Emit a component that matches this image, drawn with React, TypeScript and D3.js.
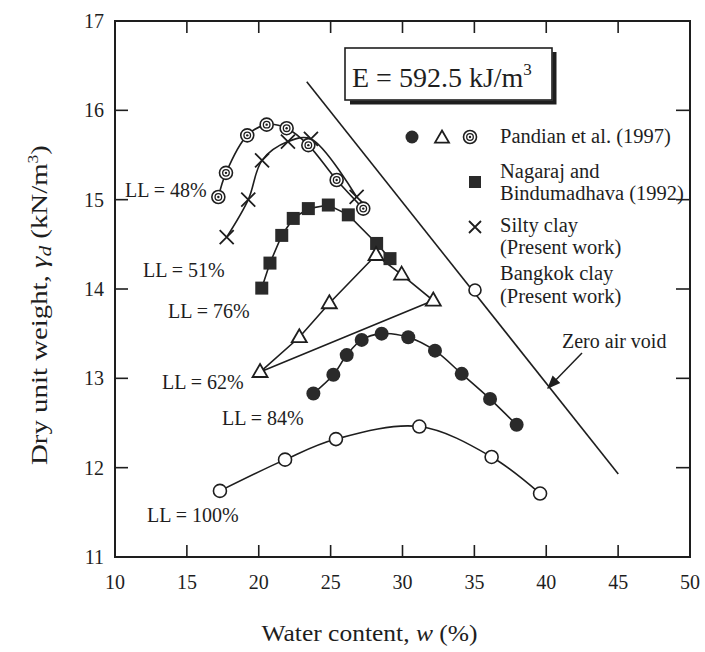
import React from 'react';
import * as d3 from 'd3';

// ---------- data ----------
const xTicks = [10, 15, 20, 25, 30, 35, 40, 45, 50];
const yTicks = [11, 12, 13, 14, 15, 16, 17];

// Pandian et al. (1997) LL = 48% (double circles)
const p48W = [17.19, 17.72, 19.2, 20.55, 21.94, 23.45, 25.42, 27.27];
const p48G = [15.03, 15.3, 15.72, 15.84, 15.8, 15.61, 15.22, 14.9];

// Silty clay (present work) LL = 51% (crosses)
const siltW = [17.77, 19.27, 20.23, 22.03, 23.63, 26.81];
const siltG = [14.58, 15.0, 15.44, 15.65, 15.68, 15.03];

// Nagaraj and Bindumadhava (1992) LL = 76% (squares)
const nagW = [20.21, 20.78, 21.6, 22.4, 23.45, 24.84, 26.23, 28.2, 29.13];
const nagG = [14.01, 14.29, 14.6, 14.79, 14.9, 14.94, 14.83, 14.51, 14.34];

// Pandian et al. (1997) LL = 62% (triangles, closed)
const p62W = [20.09, 22.82, 24.91, 28.16, 29.94, 32.14];
const p62G = [13.07, 13.46, 13.84, 14.38, 14.16, 13.87];

// Pandian et al. (1997) LL = 84% (filled circles)
const p84W = [23.8, 25.19, 26.12, 27.16, 28.55, 30.4, 32.26, 34.12, 36.09, 37.94];
const p84G = [12.83, 13.04, 13.26, 13.43, 13.5, 13.46, 13.31, 13.05, 12.77, 12.48];

// Bangkok clay (present work) LL = 100% (open circles)
const bkkW = [17.3, 21.83, 25.37, 31.17, 36.2, 39.57];
const bkkG = [11.74, 12.09, 12.32, 12.46, 12.12, 11.71];

// Zero air void line
const zavW = [23.34, 45.01];
const zavG = [16.32, 11.93];

const llLabels = ['LL = 48%', 'LL = 51%', 'LL = 76%', 'LL = 62%', 'LL = 84%', 'LL = 100%'];
const legendLabels = [
  ['Pandian et al. (1997)'],
  ['Nagaraj and', 'Bindumadhava (1992)'],
  ['Silty clay', '(Present work)'],
  ['Bangkok clay', '(Present work)'],
];

// ---------- layout ----------
const W = 705;
const H = 652;
const L = 115, R = 690, T = 21, B = 557;
const FONT = '"Liberation Serif", "Times New Roman", serif';
const INK = '#1e1e1e';

const x = d3.scaleLinear().domain([10, 50]).range([L, R]);
const y = d3.scaleLinear().domain([11, 17]).range([B, T]);

const pts = (ws: number[], gs: number[]) => ws.map((w, i) => [x(w), y(gs[i])] as [number, number]);

const smooth = d3.line().curve(d3.curveCatmullRom.alpha(0.5));
const straight = d3.line();

function DoubleCircle({ cx, cy }: { cx: number; cy: number }) {
  return (
    <g>
      <circle cx={cx} cy={cy} r={6.5} fill="#fff" stroke={INK} strokeWidth={1.6} />
      <circle cx={cx} cy={cy} r={3.3} fill="#fff" stroke={INK} strokeWidth={1.3} />
      <circle cx={cx} cy={cy} r={1.2} fill={INK} />
    </g>
  );
}
function Cross({ cx, cy, s = 7 }: { cx: number; cy: number; s?: number }) {
  return (
    <path d={`M${cx - s},${cy - s}L${cx + s},${cy + s}M${cx - s},${cy + s}L${cx + s},${cy - s}`} stroke={INK} strokeWidth={1.8} />
  );
}
function Square({ cx, cy, s = 13 }: { cx: number; cy: number; s?: number }) {
  return <rect x={cx - s / 2} y={cy - s / 2} width={s} height={s} fill="#2a2a2a" />;
}
function Tri({ cx, cy, s = 15 }: { cx: number; cy: number; s?: number }) {
  const h = s * 0.866;
  return (
    <path d={`M${cx},${cy - h * 0.62}L${cx + s / 2},${cy + h * 0.38}L${cx - s / 2},${cy + h * 0.38}Z`} fill="#fff" stroke={INK} strokeWidth={1.8} />
  );
}
function Dot({ cx, cy, r = 7 }: { cx: number; cy: number; r?: number }) {
  return <circle cx={cx} cy={cy} r={r} fill="#2a2a2a" />;
}
function Open({ cx, cy, r = 6.5 }: { cx: number; cy: number; r?: number }) {
  return <circle cx={cx} cy={cy} r={r} fill="#fff" stroke={INK} strokeWidth={1.6} />;
}

export default function App() {
  const p48 = pts(p48W, p48G);
  const silt = pts(siltW, siltG);
  const nag = pts(nagW, nagG);
  const p62 = pts(p62W, p62G);
  const p84 = pts(p84W, p84G);
  const bkk = pts(bkkW, bkkG);
  const zav = pts(zavW, zavG);

  const llPos = [
    [125, 197],
    [143, 277],
    [168, 318],
    [162, 389],
    [222, 425],
    [147, 522],
  ];

  return (
    <svg width={W} height={H} style={{ position: 'absolute', left: 0, top: 0, background: '#fff' }} fontFamily={FONT}>
      <defs>
        <marker id="ah" viewBox="0 0 10 10" refX="9" refY="5" markerWidth="9" markerHeight="9" orient="auto">
          <path d="M0,1L10,5L0,9Z" fill={INK} />
        </marker>
      </defs>

      {/* frame */}
      <rect x={L} y={T} width={R - L} height={B - T} fill="none" stroke={INK} strokeWidth={2} />

      {/* x ticks */}
      {xTicks.slice(1, -1).map((t) => (
        <g key={'xt' + t}>
          <line x1={x(t)} x2={x(t)} y1={B} y2={B - 12} stroke={INK} strokeWidth={1.6} />
          <line x1={x(t)} x2={x(t)} y1={T} y2={T + 12} stroke={INK} strokeWidth={1.6} />
        </g>
      ))}
      {xTicks.map((t) => (
        <text key={'xl' + t} x={x(t)} y={589} textAnchor="middle" fontSize={20} fill={INK}>
          {t}
        </text>
      ))}

      {/* y ticks */}
      {yTicks.slice(1, -1).map((t) => (
        <g key={'yt' + t}>
          <line x1={L} x2={L + 13} y1={y(t)} y2={y(t)} stroke={INK} strokeWidth={1.6} />
          <line x1={R} x2={R - 14} y1={y(t)} y2={y(t)} stroke={INK} strokeWidth={1.6} />
        </g>
      ))}
      {yTicks.map((t) => (
        <text key={'yl' + t} x={104} y={y(t) + 7} textAnchor="end" fontSize={20} fill={INK}>
          {t}
        </text>
      ))}

      {/* axis titles */}
      <text x={(L + R) / 2 - 33} y={641} textAnchor="middle" fontSize={23} fill={INK} textLength={216} lengthAdjust="spacingAndGlyphs">
        Water content, <tspan fontStyle="italic">w</tspan> (%)
      </text>
      <text transform="translate(47,305) rotate(-90)" textAnchor="middle" fontSize={23} fill={INK} textLength={320} lengthAdjust="spacingAndGlyphs">
        Dry unit weight, <tspan fontStyle="italic">γ</tspan>
        <tspan fontStyle="italic" fontSize={17} dy={4}>d</tspan>
        <tspan dy={-4}> (kN/m</tspan>
        <tspan fontSize={14} dy={-9}>3</tspan>
        <tspan dy={9}>)</tspan>
      </text>

      {/* zero air void */}
      <path d={straight(zav) || ''} fill="none" stroke={INK} strokeWidth={1.6} />
      <text x={562} y={348} fontSize={20} fill={INK}>Zero air void</text>
      <line x1={582} y1={353} x2={548} y2={388} stroke={INK} strokeWidth={1.5} markerEnd="url(#ah)" />

      {/* curves */}
      <path d={smooth(p48) || ''} fill="none" stroke={INK} strokeWidth={1.6} />
      <path d={smooth(silt) || ''} fill="none" stroke={INK} strokeWidth={1.6} />
      <path d={straight(nag) || ''} fill="none" stroke={INK} strokeWidth={1.6} />
      <path d={(straight(p62) || '') + 'Z'} fill="none" stroke={INK} strokeWidth={1.6} />
      <path d={smooth(p84) || ''} fill="none" stroke={INK} strokeWidth={1.6} />
      <path d={smooth(bkk) || ''} fill="none" stroke={INK} strokeWidth={1.6} />

      {/* markers */}
      {silt.map(([cx, cy], i) => <Cross key={'s' + i} cx={cx} cy={cy} />)}
      {p48.map(([cx, cy], i) => <DoubleCircle key={'d' + i} cx={cx} cy={cy} />)}
      {nag.map(([cx, cy], i) => <Square key={'q' + i} cx={cx} cy={cy} />)}
      {p62.map(([cx, cy], i) => <Tri key={'t' + i} cx={cx} cy={cy} />)}
      {p84.map(([cx, cy], i) => <Dot key={'f' + i} cx={cx} cy={cy} />)}
      {bkk.map(([cx, cy], i) => <Open key={'o' + i} cx={cx} cy={cy} />)}

      {/* LL labels */}
      {llLabels.map((s, i) => (
        <text key={'ll' + i} x={llPos[i][0]} y={llPos[i][1]} fontSize={20} fill={INK}>
          {s}
        </text>
      ))}

      {/* energy box */}
      <path d="M350,102.5L554.5,102.5L554.5,52" fill="none" stroke={INK} strokeWidth={4} />
      <rect x={345} y={48} width={207} height={52} fill="#fff" stroke={INK} strokeWidth={1.6} />
      <text x={352} y={87} fontSize={28} fill={INK}>
        E = 592.5 kJ/m<tspan fontSize={17} dy={-12}>3</tspan>
      </text>

      {/* legend */}
      <Dot cx={412} cy={137} r={6.5} />
      <Tri cx={442} cy={138} s={14} />
      <DoubleCircle cx={470} cy={137} />
      <text x={500} y={143} fontSize={20.5} fill={INK}>{legendLabels[0][0]}</text>

      <Square cx={475} cy={182} s={12} />
      <text x={500} y={178} fontSize={20.5} fill={INK}>{legendLabels[1][0]}</text>
      <text x={500} y={200} fontSize={20.5} fill={INK}>{legendLabels[1][1]}</text>

      <Cross cx={475} cy={227} s={6} />
      <text x={500} y={232} fontSize={20.5} fill={INK}>{legendLabels[2][0]}</text>
      <text x={500} y={254} fontSize={20.5} fill={INK}>{legendLabels[2][1]}</text>

      <Open cx={475} cy={290} r={6} />
      <text x={500} y={280} fontSize={20.5} fill={INK}>{legendLabels[3][0]}</text>
      <text x={500} y={303} fontSize={20.5} fill={INK}>{legendLabels[3][1]}</text>
    </svg>
  );
}
